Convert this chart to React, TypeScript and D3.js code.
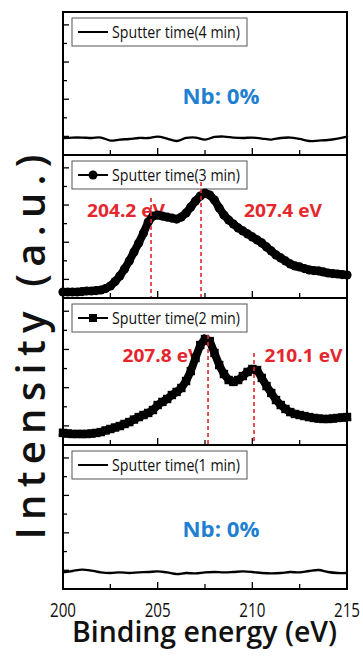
import * as d3 from 'd3';

// binding energy grids (eV)
const energyFine = d3.range(0, 61).map((i) => 200 + i * 0.25);
const energyCoarse = d3.range(0, 31).map((i) => 200 + i * 0.5);

const xTicksMajor = [200, 205, 210, 215];
const xTicksMinor = [202.5, 207.5, 212.5];
const yTicks = [13, 26, 39, 52, 65, 78, 91];

const legendLabels = [
  'Sputter time(4 min)',
  'Sputter time(3 min)',
  'Sputter time(2 min)',
  'Sputter time(1 min)',
];

// intensities (a.u., 0-100 of each panel)
const int4min = [
  11.9, 12.2, 12.2, 11.9, 12.2, 10.1, 10.8, 11.2, 11.9, 11.9, 12.9, 11.5, 9.8, 11.9, 12.2, 10.8,
  12.6, 12.9, 12.2, 11.9, 12.2, 11.5, 10.8, 11.9, 12.2, 11.2, 9.8, 10.1, 10.5, 11.5, 12.9,
];
const int3min = [
  4.2, 4.2, 4.2, 4.2, 4.5, 4.9, 4.9, 5.2, 5.6, 6.6, 8.4, 11.5, 15.4, 20.3, 25.9, 32.2, 38.5, 45.5,
  53.1, 57.3, 58.0, 57.3, 56.6, 55.9, 55.2, 56.6, 59.4, 63.6, 67.8, 71.3, 73.4, 72.0, 68.5, 62.9,
  58.0, 54.5, 51.7, 49.0, 46.9, 44.8, 42.7, 40.6, 38.5, 35.7, 32.9, 30.1, 28.0, 25.9, 23.8, 22.4,
  21.7, 20.6, 19.6, 19.2, 18.9, 18.2, 17.5, 17.1, 16.8, 16.4, 16.1,
];
const int2min = [
  8.2, 7.8, 7.5, 7.5, 7.5, 7.5, 7.8, 8.2, 8.8, 9.9, 10.9, 11.9, 12.9, 14.3, 15.6, 17.3, 19.0, 20.4,
  21.8, 23.8, 27.2, 29.3, 31.3, 34.0, 36.1, 38.8, 43.5, 50.3, 59.2, 68.0, 72.1, 70.7, 62.6, 54.4,
  48.3, 44.2, 42.9, 44.2, 46.9, 49.7, 51.7, 51.0, 45.6, 40.1, 35.4, 30.6, 27.2, 24.5, 22.4, 21.1,
  20.4, 19.7, 19.0, 18.4, 18.0, 17.7, 17.7, 18.0, 18.4, 18.7, 19.0,
];
const int1min = [
  11.5, 12.5, 13.5, 12.8, 11.5, 11.1, 11.5, 11.1, 11.5, 11.8, 12.2, 11.5, 10.4, 11.1, 10.8, 11.5,
  11.8, 11.5, 11.8, 12.2, 11.8, 11.1, 10.8, 11.1, 11.8, 11.5, 12.5, 13.2, 11.8, 11.1, 11.1,
];

// peak markers: energy position, top of dashed line (a.u.), label
const peakEnergy3min = [204.65, 207.29];
const peakTop3min = [69.9, 81.1];
const peakLabel3min = ['204.2 eV', '207.4 eV'];
const peakEnergy2min = [207.66, 210.09];
const peakTop2min = [74.8, 62.6];
const peakLabel2min = ['207.8 eV', '210.1 eV'];

type Marker = 'line' | 'circle' | 'square';

interface Peak {
  e: number;
  top: number;
  label: string;
  labelE: number;
}

interface Panel {
  energies: number[];
  values: number[];
  marker: Marker;
  legend: string;
  nb?: boolean;
  peaks?: Peak[];
}

const W = 363;
const H = 658;
const left = 63;
const right = 347;
const edges = [12, 155, 298, 445, 589];
const RED = '#e5262c';
const BLUE = '#1f7fd0';
const FONT = "'Open Sans', 'DejaVu Sans', sans-serif";

const panels: Panel[] = [
  { energies: energyCoarse, values: int4min, marker: 'line', legend: legendLabels[0], nb: true },
  {
    energies: energyFine,
    values: int3min,
    marker: 'circle',
    legend: legendLabels[1],
    peaks: peakEnergy3min.map((e, i) => ({
      e,
      top: peakTop3min[i],
      label: peakLabel3min[i],
      labelE: [203.33, 211.62][i],
    })),
  },
  {
    energies: energyFine,
    values: int2min,
    marker: 'square',
    legend: legendLabels[2],
    peaks: peakEnergy2min.map((e, i) => ({
      e,
      top: peakTop2min[i],
      label: peakLabel2min[i],
      labelE: [205.2, 212.7][i],
    })),
  },
  { energies: energyCoarse, values: int1min, marker: 'line', legend: legendLabels[3], nb: true },
];

export default function App() {
  const x = d3.scaleLinear().domain([200, 215]).range([left, right]);

  return (
    <svg
      width={W}
      height={H}
      style={{ position: 'absolute', left: 0, top: 0, background: '#fff' }}
      fontFamily={FONT}
    >
      {panels.map((p, pi) => {
        const top = edges[pi];
        const bottom = edges[pi + 1];
        const y = d3.scaleLinear().domain([0, 100]).range([bottom, top]);
        const pts = p.energies.map((e, i) => [x(e), y(p.values[i])] as [number, number]);
        const line = d3
          .line<[number, number]>()
          .curve(p.marker === 'line' ? d3.curveCatmullRom : d3.curveLinear)(pts);
        const lgTop = top + 6;
        const lgMid = lgTop + 14;
        return (
          <g key={pi}>
            {/* y ticks */}
            {yTicks.map((t, i) => (
              <line
                key={'y' + i}
                x1={left}
                x2={left + (i % 2 === 0 ? 6 : 4)}
                y1={y(t)}
                y2={y(t)}
                stroke="#000"
                strokeWidth={1.3}
              />
            ))}
            {/* x ticks */}
            {xTicksMajor.map((t) => (
              <line key={'xm' + t} x1={x(t)} x2={x(t)} y1={bottom} y2={bottom - 7} stroke="#000" strokeWidth={1.3} />
            ))}
            {xTicksMinor.map((t) => (
              <line key={'xn' + t} x1={x(t)} x2={x(t)} y1={bottom} y2={bottom - 5} stroke="#000" strokeWidth={1.3} />
            ))}

            {/* legend */}
            <rect x={72} y={lgTop} width={175} height={28} fill="#fff" stroke="#555" strokeWidth={1} />
            <line x1={78} x2={108} y1={lgMid} y2={lgMid} stroke="#000" strokeWidth={2} />
            {p.marker === 'circle' && <circle cx={93} cy={lgMid} r={4.5} fill="#000" />}
            {p.marker === 'square' && <rect x={89} y={lgMid - 4} width={8} height={8} fill="#000" />}
            <text x={112} y={lgMid + 6} fontSize={16} textLength={128} lengthAdjust="spacingAndGlyphs" fill="#111">
              {p.legend}
            </text>

            {p.nb && (
              <text
                x={221}
                y={top + 92}
                textAnchor="middle"
                fontSize={21}
                fontWeight={700}
                fill={BLUE}
                textLength={77}
                lengthAdjust="spacingAndGlyphs"
              >
                Nb: 0%
              </text>
            )}

            {p.peaks &&
              p.peaks.map((pk, i) => (
                <text
                  key={'pl' + i}
                  x={x(pk.labelE)}
                  y={y(56.6)}
                  textAnchor="middle"
                  fontSize={18}
                  fontWeight={700}
                  fill={RED}
                  textLength={78}
                  lengthAdjust="spacingAndGlyphs"
                >
                  {pk.label}
                </text>
              ))}

            {/* data */}
            <path
              d={line ?? ''}
              fill="none"
              stroke="#000"
              strokeWidth={p.marker === 'line' ? 2.3 : 8}
              strokeLinejoin={p.marker === 'square' ? 'miter' : 'round'}
              strokeLinecap={p.marker === 'square' ? 'square' : 'round'}
            />
            {p.marker === 'circle' &&
              pts.map((d, i) => <circle key={'c' + i} cx={d[0]} cy={d[1]} r={4.6} fill="#000" />)}
            {p.marker === 'square' &&
              pts.map((d, i) => (
                <rect key={'s' + i} x={d[0] - 4.2} y={d[1] - 4.2} width={8.4} height={8.4} fill="#000" />
              ))}

            {p.peaks &&
              p.peaks.map((pk, i) => (
                <line
                  key={'pk' + i}
                  x1={x(pk.e)}
                  x2={x(pk.e)}
                  y1={y(pk.top)}
                  y2={bottom}
                  stroke={RED}
                  strokeWidth={1.6}
                  strokeDasharray="4,3"
                />
              ))}
          </g>
        );
      })}

      {/* frame and separators */}
      <rect x={left} y={edges[0]} width={right - left} height={edges[4] - edges[0]} fill="none" stroke="#000" strokeWidth={2} />
      {edges.slice(1, 4).map((e) => (
        <line key={'sep' + e} x1={left} x2={right} y1={e} y2={e} stroke="#000" strokeWidth={2} />
      ))}

      {/* x tick labels */}
      {xTicksMajor.map((t) => (
        <text
          key={'xl' + t}
          x={x(t)}
          y={617}
          textAnchor="middle"
          fontSize={20}
          textLength={26}
          lengthAdjust="spacingAndGlyphs"
          fill="#111"
        >
          {t}
        </text>
      ))}

      <text
        x={204.5}
        y={642}
        textAnchor="middle"
        fontSize={28}
        fontWeight={600}
        textLength={265}
        lengthAdjust="spacingAndGlyphs"
        fill="#111"
      >
        Binding energy (eV)
      </text>

      <text
        transform="translate(45,347) rotate(-90)"
        textAnchor="middle"
        fontSize={40}
        fontWeight={600}
        textLength={385}
        lengthAdjust="spacing"
        fill="#111"
      >
        Intensity (a.u.)
      </text>
    </svg>
  );
}
